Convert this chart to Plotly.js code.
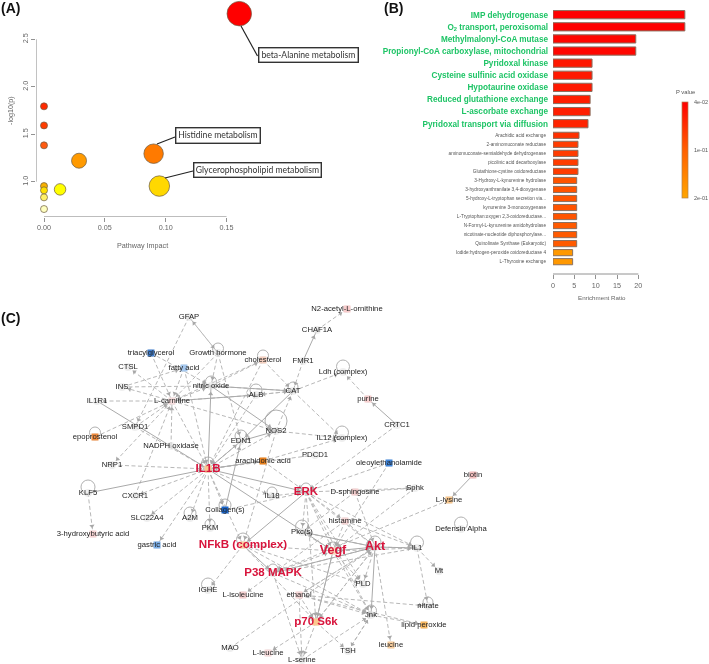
<!DOCTYPE html>
<html>
<head>
<meta charset="utf-8">
<script src="https://cdn.plot.ly/plotly-3.0.1.min.js"></script>
<style>html,body{margin:0;padding:0;background:#fff}</style>
</head>
<body>
<div id="chart" style="width:709px;height:664px;filter:blur(0.35px)"></div>
<script>
// ---------- Panel A: pathway impact ----------
const pathImpact = [0,0,0,0,0,0,0,0.0132,0.0288,0.0901,0.0948,0.1605];
const pathLogP   = [1.794,1.593,1.383,0.954,0.909,0.835,0.712,0.919,1.221,1.295,0.954,2.77];
const pathSize   = [7,7,7,7,7,7,7,11.5,15,19.5,20.5,24.5];
const pathColor  = ['#ff2a00','#ff3d00','#ff5a10','#f8b000','#ffe000','#fff066','#ffffc0','#ffff00','#ff9a00','#ff7a00','#ffd800','#ff0000'];

// ---------- Panel B: enrichment ----------
const topSets = ['IMP dehydrogenase','O<sub>2</sub> transport, peroxisomal','Methylmalonyl-CoA mutase','Propionyl-CoA carboxylase, mitochondrial','Pyridoxal kinase','Cysteine sulfinic acid oxidase','Hypotaurine oxidase','Reduced glutathione exchange','L-ascorbate exchange','Pyridoxal transport via diffusion'];
const topRatio = [30.9,30.9,19.4,19.4,9.15,9.15,9.15,8.7,8.7,8.2];
const topP     = [0.04,0.04,0.045,0.045,0.06,0.06,0.06,0.065,0.065,0.07];
const lowSets = ['Arachidic acid exchange','2-aminomuconate reductase','aminomuconate-semialdehyde dehydrogenase','picolinic acid decarboxylase','Glutathione-cystine oxidoreductase','3-Hydroxy-L-kynurenine hydrolase','3-hydroxyanthranilate 3,4-dioxygenase','5-hydroxy-L-tryptophan secretion via...','kynurenine 3-monooxygenase','L-Tryptophan:oxygen 2,3-oxidoreductase...','N-Formyl-L-kynurenine amidohydrolase','nicotinate-nucleotide diphosphorylase...','Quinolinate Synthase (Eukaryotic)','Iodide:hydrogen-peroxide oxidoreductase 4','L-Thyroxine exchange'];
const lowRatio = [6.1,5.85,5.85,5.85,5.85,5.55,5.55,5.55,5.55,5.55,5.55,5.55,5.55,4.6,4.6];
const lowP     = [0.08,0.09,0.09,0.09,0.09,0.11,0.11,0.11,0.11,0.11,0.115,0.115,0.115,0.185,0.185];

// ---------- Panel C: network ----------
const nodeNames = ['GFAP','triacylglycerol','Growth hormone','CTSL','fatty acid','INS','nitric oxide','IL1R1','L-carnitine','SMPD1','epoprostenol','NADPH oxidase','NRP1','IL1B','N2-acetyl-L-ornithine','CHAF1A','cholesterol','FMR1','Ldh (complex)','CAT','ALB','purine','NOS2','CRTC1','EDN1','IL12 (complex)','PDCD1','arachidonic acid','oleoylethanolamide','biotin','Sphk','L-lysine','ERK','D-sphingosine','IL18','CXCR1','KLF5','Collagen(s)','SLC22A4','A2M','PKM','3-hydroxybutyric acid','gastric acid','NFkB (complex)','IGHE','L-isoleucine','MAO','histamine','Pkc(s)','Defensin Alpha','Vegf','Akt','IL1','Mt','P38 MAPK','PLD','ethanol','nitrate','Jnk','lipid peroxide','p70 S6k','leucine','L-leucine','L-serine','TSH'];
const nodeX = [189,151,218,128,184,122,211,97,172,135,95,171,112,208,347,317,263,303,343,293,256,368,276,397,241,342,315,263,389,473,415,449,306,355,272,135,88,225,147,190,210,93,157,243,208,243,230,345,302,461,333,375,417,439,273,363,299,428,371,424,316,391,268,302,348];
const nodeY = [317,353,353,367,368,387,386,401,401,427,437,446,465,469,309,330,360,361,372,391,395,399,431,425,441,438,455,461,463,475,488,500,492,492,496,496,493,510,518,518,528,534,545,545,590,595,648,521,532,529,551,547,548,571,573,584,595,606,615,625,622,645,653,660,651];
const hubNames = ['IL1B','ERK','NFkB (complex)','Vegf','Akt','P38 MAPK','p70 S6k'];
const hubSizes = [11.6,11.5,11.6,12.5,12.5,11.5,11.5];
const tintNames = ['triacylglycerol','fatty acid','epoprostenol','L-carnitine','N2-acetyl-L-ornithine','cholesterol','purine','arachidonic acid','oleoylethanolamide','biotin','L-lysine','D-sphingosine','histamine','Collagen(s)','3-hydroxybutyric acid','gastric acid','NFkB (complex)','Vegf','p70 S6k','IL1B','L-isoleucine','lipid peroxide','leucine','L-leucine','ethanol'];
const tintColors = ['#3f7fd0','#a5c8ef','#ef8a3c','#f6dede','#f8cccc','#f5d0c0','#f8d0d0','#e8801c','#3f86dc','#f5c0c0','#f9c890','#f5d0d0','#f5d5d5','#1a66cc','#f8d5d5','#7aaee8','#fbd0a0','#fbd8b8','#fbc890','#fbc890','#f5d0d0','#f8b860','#fbd0a0','#f8dcdc','#f8d8d8'];
const loopNames = ['Growth hormone','cholesterol','nitric oxide','ALB','NOS2','Ldh (complex)','IL12 (complex)','epoprostenol','KLF5','IL1B','A2M','PKM','Collagen(s)','NFkB (complex)','IGHE','Defensin Alpha','IL1','Akt','Pkc(s)','Jnk','ERK','nitrate','EDN1','IL18','CAT','Vegf','p70 S6k','P38 MAPK'];
const loopSizes = [11,11,11,12,22,13,13,11,14,13,12,10,12,13,13,13,13,12,13,11,10,10,12,10,10,10,10,10];
const dashEdges = [
 ['GFAP','SMPD1'],['GFAP','Growth hormone'],['Growth hormone','GFAP'],['triacylglycerol','L-carnitine'],['triacylglycerol','nitric oxide'],['L-carnitine','CTSL'],['fatty acid','L-carnitine'],['fatty acid','IL1B'],['INS','fatty acid'],['L-carnitine','INS'],['INS','nitric oxide'],['L-carnitine','IL1R1'],['epoprostenol','L-carnitine'],['SMPD1','IL1B'],['SMPD1','L-carnitine'],['NADPH oxidase','L-carnitine'],['L-carnitine','NRP1'],['NRP1','IL1B'],['L-carnitine','IL1B'],['L-carnitine','nitric oxide'],['L-carnitine','NOS2'],['L-carnitine','ALB'],['nitric oxide','CAT'],['nitric oxide','cholesterol'],['Growth hormone','EDN1'],['Growth hormone','nitric oxide'],['Growth hormone','L-carnitine'],['cholesterol','L-carnitine'],['cholesterol','IL1B'],['cholesterol','CAT'],['CHAF1A','N2-acetyl-L-ornithine'],['FMR1','CAT'],['CAT','Ldh (complex)'],['CAT','IL12 (complex)'],['NOS2','CAT'],['ALB','IL1B'],['CAT','ALB'],['ALB','CAT'],['NOS2','IL12 (complex)'],['PDCD1','IL1B'],['arachidonic acid','IL12 (complex)'],['purine','Ldh (complex)'],['EDN1','IL1B'],['CRTC1','ERK'],['oleoylethanolamide','ERK'],['oleoylethanolamide','Vegf'],['D-sphingosine','Sphk'],['ERK','Sphk'],['Sphk','Vegf'],['IL1B','SLC22A4'],['IL1B','gastric acid'],['IL1B','A2M'],['IL1B','PKM'],['IL1B','Collagen(s)'],['IL1B','NFkB (complex)'],['IL1B','CXCR1'],['KLF5','3-hydroxybutyric acid'],['NFkB (complex)','IGHE'],['IL1B','NOS2'],['NOS2','NFkB (complex)'],['arachidonic acid','IL1B'],['arachidonic acid','ERK'],['Collagen(s)','ERK'],['ERK','Akt'],['ERK','Vegf'],['ERK','histamine'],['ERK','Pkc(s)'],['ERK','IL1'],['ERK','Jnk'],['ERK','PLD'],['ERK','p70 S6k'],['D-sphingosine','Akt'],['D-sphingosine','Pkc(s)'],['histamine','Akt'],['histamine','IL1'],['histamine','Vegf'],['histamine','P38 MAPK'],['Pkc(s)','Akt'],['Pkc(s)','Vegf'],['NFkB (complex)','Vegf'],['NFkB (complex)','Jnk'],['NFkB (complex)','p70 S6k'],['NFkB (complex)','PLD'],['Akt','IL1'],['Vegf','IL1'],['IL1','Mt'],['IL1','nitrate'],['IL1','P38 MAPK'],['L-lysine','P38 MAPK'],['Akt','leucine'],['Akt','PLD'],['Akt','p70 S6k'],['Akt','ethanol'],['Vegf','p70 S6k'],['Vegf','Jnk'],['Vegf','PLD'],['P38 MAPK','Vegf'],['P38 MAPK','Akt'],['P38 MAPK','L-isoleucine'],['P38 MAPK','L-serine'],['P38 MAPK','Jnk'],['ethanol','Jnk'],['ethanol','nitrate'],['ethanol','p70 S6k'],['ethanol','L-serine'],['ethanol','lipid peroxide'],['Jnk','lipid peroxide'],['p70 S6k','TSH'],['p70 S6k','L-leucine'],['p70 S6k','L-serine'],['p70 S6k','Akt'],['Jnk','TSH'],['L-serine','Jnk'],['MAO','Akt'],['TSH','Jnk'],['IL18','ERK'],['IL1B','IL18'],['ethanol','Akt'],['CXCR1','L-carnitine']
];
const solidEdges = [
 ['FMR1','CHAF1A'],['CRTC1','purine'],['biotin','L-lysine'],['KLF5','IL1B'],['IL1R1','IL1B'],['IL1B','nitric oxide'],['IL1B','ERK'],['IL1B','Vegf'],['IL1B','arachidonic acid'],['IL1B','EDN1'],['nitric oxide','NOS2'],['nitric oxide','CAT'],['ALB','L-carnitine'],['CAT','EDN1'],['NOS2','EDN1'],['Collagen(s)','EDN1'],['Akt','Jnk'],['ERK','NFkB (complex)'],['Akt','Vegf'],['NFkB (complex)','P38 MAPK'],['Akt','Pkc(s)'],['IL1','Akt'],['Vegf','p70 S6k'],['Akt','P38 MAPK']
];

// ---------- page geometry ----------
const W = 709, H = 664;
const fx = a => a / W;
const fy = b => 1 - b / H;
const grey = '#777';

function edgeLine(list) {
  const xs = [], ys = [];
  list.forEach(([a, b]) => {
    const i = nodeNames.indexOf(a), j = nodeNames.indexOf(b);
    xs.push(nodeX[i], nodeX[j], null);
    ys.push(nodeY[i], nodeY[j], null);
  });
  return {xs, ys};
}
const dashLine = edgeLine(dashEdges), solidLine = edgeLine(solidEdges);

const arrowX = [], arrowY = [], arrowAngle = [];
dashEdges.concat(solidEdges).forEach(([a, b]) => {
  const i = nodeNames.indexOf(a), j = nodeNames.indexOf(b);
  const dx = nodeX[j] - nodeX[i], dy = nodeY[j] - nodeY[i];
  const d = Math.hypot(dx, dy) || 1;
  arrowX.push(nodeX[j] - dx / d * 8);
  arrowY.push(nodeY[j] - dy / d * 8);
  arrowAngle.push(Math.atan2(dx, -dy) * 180 / Math.PI);
});

const tintIdx = tintNames.map(n => nodeNames.indexOf(n));
const loopIdx = loopNames.map(n => nodeNames.indexOf(n));
const labelText = nodeNames.map(n => hubNames.includes(n) ? '<b>' + n + '</b>' : n);
const labelSize = nodeNames.map(n => {
  const k = hubNames.indexOf(n);
  return k >= 0 ? hubSizes[k] : 7.7;
});
const labelColor = nodeNames.map(n => hubNames.includes(n) ? '#d8143c' : '#222');

// higher colour level = smaller p, so that red sits at the top of the scale
const cbScale = [[0,'#ffa500'],[0.5,'#ff6000'],[1,'#ff0000']];
const level = p => -p;

const traces = [
  {type:'scatter', mode:'markers', x:pathImpact, y:pathLogP, xaxis:'x', yaxis:'y', cliponaxis:false, hoverinfo:'skip',
   marker:{size:pathSize, color:pathColor, opacity:1, line:{color:'#6b5a40', width:0.7}}},
  {type:'bar', orientation:'h', x:topRatio, y:topSets, xaxis:'x2', yaxis:'y2', width:0.68, hoverinfo:'skip',
   marker:{color:topP.map(level), cmin:-0.2, cmax:-0.04, colorscale:cbScale, line:{color:'#8a7060', width:1}, showscale:true,
     colorbar:{x:fx(682), xanchor:'left', xpad:0, y:fy(149.7), yanchor:'middle', ypad:0, len:96, lenmode:'pixels', thickness:6, thicknessmode:'pixels',
       outlinecolor:'#b08050', outlinewidth:0.7, borderwidth:0, ticks:'outside', ticklen:5, tickcolor:'rgba(0,0,0,0)', tickmode:'array', tickvals:[-0.04,-0.12,-0.2], ticktext:['4e-02','1e-01','2e-01'],
       tickfont:{family:'Liberation Sans', size:5.5, color:'#555'}}}},
  {type:'bar', orientation:'h', x:lowRatio, y:lowSets, xaxis:'x2', yaxis:'y3', width:0.68, hoverinfo:'skip',
   marker:{color:lowP.map(level), cmin:-0.2, cmax:-0.04, colorscale:cbScale, line:{color:'#8a7060', width:1}, showscale:false}},
  {type:'scatter', mode:'lines', x:dashLine.xs, y:dashLine.ys, xaxis:'x3', yaxis:'y4', hoverinfo:'skip', connectgaps:false,
   line:{color:'#b8b8b8', width:1, dash:'4px,2.5px'}},
  {type:'scatter', mode:'lines', x:solidLine.xs, y:solidLine.ys, xaxis:'x3', yaxis:'y4', hoverinfo:'skip', connectgaps:false,
   line:{color:'#aaaaaa', width:1}},
  {type:'scatter', mode:'markers', x:arrowX, y:arrowY, xaxis:'x3', yaxis:'y4', hoverinfo:'skip',
   marker:{symbol:'triangle-up', size:4.5, color:'#a8a8a8', opacity:1, angle:arrowAngle, line:{width:0}}},
  {type:'scatter', mode:'markers', x:loopIdx.map(i=>nodeX[i]), y:loopIdx.map((i,k)=>nodeY[i]-loopSizes[k]/2+1), xaxis:'x3', yaxis:'y4', hoverinfo:'skip',
   marker:{symbol:'circle-open', size:loopSizes, color:'#a8a8a8', opacity:1, line:{color:'#a8a8a8', width:0.9}}},
  {type:'scatter', mode:'markers', x:nodeX, y:nodeY, xaxis:'x3', yaxis:'y4', hoverinfo:'skip',
   marker:{symbol:'circle', size:8, color:'rgba(225,225,225,0.55)', line:{width:0}}},
  {type:'scatter', mode:'markers', x:tintIdx.map(i=>nodeX[i]), y:tintIdx.map(i=>nodeY[i]), xaxis:'x3', yaxis:'y4', hoverinfo:'skip',
   marker:{symbol:'square', size:7, color:tintColors, opacity:1, line:{width:0}}},
  {type:'scatter', mode:'text', x:nodeX, y:nodeY, text:labelText, xaxis:'x3', yaxis:'y4', hoverinfo:'skip', cliponaxis:false,
   textposition:'middle center', textfont:{family:'Liberation Sans', size:labelSize, color:labelColor}}
];

const labelFont = {family:'Lato', size:8.6, color:'#333'};
const panelFont = {family:'Liberation Sans', size:14, color:'#111'};
function calloutBox(text, x0, x1, y0, y1) {
  return {xref:'x3', yref:'y4', x:(x0+x1)/2, y:(y0+y1)/2, text:text, showarrow:false, width:x1-x0-3, height:y1-y0-3,
    bgcolor:'#fff', bordercolor:'#333', borderwidth:1.4, borderpad:0, font:labelFont, xanchor:'center', yanchor:'middle'};
}
function plain(text, x, y, font, opts) {
  return Object.assign({xref:'x3', yref:'y4', x, y, text, showarrow:false, font, xanchor:'center', yanchor:'middle'}, opts||{});
}
function seg(x0,y0,x1,y1,color,width){
  return {type:'line', xref:'x3', yref:'y4', x0,y0,x1,y1, line:{color:color, width:width}};
}
const axFont = {family:'Liberation Sans', size:7.2, color:'#666'};

// Axis ranges from the pixel calibration of each panel
const ax = 1216.7, ay = 94.93;
const layout = {
  width:W, height:H, margin:{l:0,r:0,t:0,b:0}, paper_bgcolor:'#fff', plot_bgcolor:'rgba(0,0,0,0)', showlegend:false, barmode:'overlay',
  font:{family:'Liberation Sans'},
  xaxis:{domain:[fx(36.3),fx(242)], range:[-7.7/ax,(242-44)/ax], anchor:'y', tickmode:'array', tickvals:[0,0.05,0.1,0.15], ticktext:['0.00','0.05','0.10','0.15'],
    ticks:'outside', ticklen:4, tickcolor:grey, tickwidth:0.8, showgrid:false, zeroline:false, showline:false, tickfont:axFont},
  yaxis:{domain:[fy(216.7),fy(0)], range:[1-35/ay,1+181.7/ay], anchor:'x', tickmode:'array', tickvals:[1,1.5,2,2.5], ticktext:['1.0','1.5','2.0','2.5'],
    ticks:'outside', ticklen:4, tickcolor:grey, tickwidth:0.8, showgrid:false, zeroline:false, showline:false, tickangle:-90, tickfont:axFont},
  xaxis2:{domain:[fx(553),fx(690)], range:[0,137/4.267], anchor:'free', position:fy(274), tickmode:'array', tickvals:[0,5,10,15,20],
    ticks:'outside', ticklen:4, tickcolor:grey, tickwidth:0.8, showgrid:false, zeroline:false, showline:false, tickfont:axFont},
  yaxis2:{domain:[fy(129.75),fy(8.65)], anchor:'x2', type:'category', autorange:'reversed', showgrid:false, zeroline:false, showline:false, ticks:'',
    tickmode:'array', tickvals:topSets, ticktext:topSets, ticklabelstandoff:4, tickfont:{family:'Liberation Sans', size:8.2, color:'#1ec466', weight:700}},
  yaxis3:{domain:[fy(266.2),fy(130.8)], anchor:'x2', type:'category', autorange:'reversed', showgrid:false, zeroline:false, showline:false, ticks:'',
    tickmode:'array', tickvals:lowSets, ticktext:lowSets, ticklabelstandoff:6, tickfont:{family:'Liberation Sans', size:4.7, color:'#555'}},
  xaxis3:{domain:[0,1], range:[0,W], anchor:'y4', visible:false, showgrid:false, zeroline:false},
  yaxis4:{domain:[0,1], range:[H,0], anchor:'x3', visible:false, showgrid:false, zeroline:false},
  shapes:[
    {type:'line', xref:'x', yref:'y', x0:0, x1:0.15, y0:1-35/ay, y1:1-35/ay, line:{color:grey, width:0.8}},
    {type:'line', xref:'x', yref:'y', x0:-7.7/ax, x1:-7.7/ax, y0:1, y1:2.5, line:{color:grey, width:0.8}},
    {type:'line', xref:'x2', yref:'paper', x0:0, x1:20, y0:fy(274), y1:fy(274), line:{color:grey, width:0.8}},
    seg(241,26,257.5,56,'#222',1.2), seg(157,144,175,137,'#222',1.2), seg(165,178,193,171,'#222',1.2)
  ],
  annotations:[
    plain('<b>(A)</b>',10,8,panelFont), plain('<b>(B)</b>',393,8,panelFont), plain('<b>(C)</b>',10,318,panelFont),
    plain('Pathway Impact',142,245,axFont), plain('-log10(p)',10,111,axFont,{textangle:-90}),
    plain('Enrichment Ratio',602,297.5,{family:'Liberation Sans', size:6.2, color:'#666'}),
    plain('P value',685,92,{family:'Liberation Sans', size:5.8, color:'#555'}),
    calloutBox('beta-Alanine metabolism',258,359,47,63),
    calloutBox('Histidine metabolism',175,261,127,144),
    calloutBox('Glycerophospholipid metabolism',193,322,162,178)
  ]
};

Plotly.newPlot('chart', traces, layout, {displayModeBar:false, staticPlot:true});
</script>
</body>
</html>
